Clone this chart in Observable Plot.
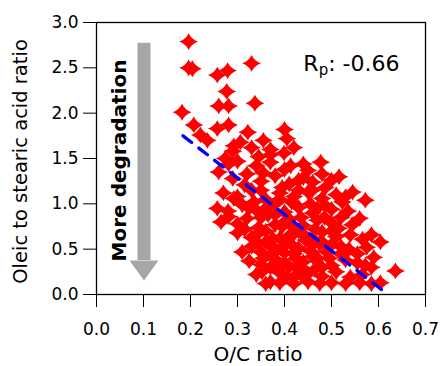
<!DOCTYPE html>
<html><head><meta charset="utf-8">
<script src="https://cdn.jsdelivr.net/npm/d3@7"></script>
<script src="https://cdn.jsdelivr.net/npm/@observablehq/plot@0.6"></script>
<style>
body{margin:0;background:#fff}
svg{font-family:"DejaVu Sans",sans-serif}
</style>
</head><body><div id="chart"></div>
<script>
// O/C ratio (x) and oleic-to-stearic acid ratio (y)
const ocRatio = [
  0.196,0.196,0.204,0.257,0.279,0.330,0.277,0.260,0.281,0.337,
  0.182,0.207,0.221,0.236,0.257,0.281,0.322,0.355,0.292,0.306,
  0.400,0.405,0.345,0.370,0.399,0.274,0.413,0.477,0.480,0.516,
  0.430,0.487,0.530,0.572,0.459,0.523,0.487,0.544,0.515,0.604,
  0.566,0.590,0.636,0.604,0.572,0.537,0.260,0.257,0.281,0.292,
  0.330,0.352,0.370,0.281,
  0.29,0.33,0.37,0.42,
  0.30,0.34,0.37,0.40,0.44,0.45,
  0.29,0.32,0.35,0.38,0.41,0.44,0.46,0.50,
  0.27,0.30,0.33,0.36,0.39,0.42,0.45,0.48,0.51,0.545,
  0.28,0.31,0.34,0.37,0.40,0.43,0.46,0.50,0.535,
  0.265,0.30,0.32,0.35,0.38,0.41,0.44,0.47,0.50,0.56,
  0.30,0.33,0.36,0.39,0.42,0.45,0.48,0.51,0.54,0.585,
  0.31,0.35,0.37,0.40,0.43,0.46,0.49,0.52,0.555,0.575,
  0.325,0.35,0.38,0.41,0.44,0.47,0.50,0.53,0.555,0.585,
  0.34,0.39,0.42,0.45,0.48,0.51,0.54,0.565,
  0.36,0.39,0.42,0.45,0.475,0.50,0.53,0.56,0.585,
  0.43,0.40,0.38,
  0.315,0.345,0.375,0.395,0.415,0.425,0.435,0.455,0.465,0.385,
  0.405,0.355,0.365,0.335,0.395,0.355,0.315,0.425,0.445,0.475,
  0.485,0.345,0.325,0.415,0.455,0.375,0.395,0.435,0.465,0.495,
  0.36,0.38,0.40,0.42,0.44,0.46,0.48,0.50,0.36,0.34,
  0.38,0.42,0.46,0.40,0.37,0.44,0.48,0.52,0.50,0.47,
  0.43,0.39,0.35,0.41,0.52
];
const oleicStearic = [
  2.79,2.50,2.49,2.42,2.47,2.55,2.24,2.08,2.08,2.11,
  2.01,1.87,1.76,1.70,1.83,1.87,1.79,1.70,1.64,1.68,
  1.82,1.72,1.52,1.54,1.56,1.50,1.42,1.46,1.33,1.30,
  1.26,1.18,1.08,1.04,1.15,1.02,0.98,0.77,0.73,0.58,
  0.61,0.41,0.26,0.13,0.32,0.50,1.35,0.95,0.86,1.06,
  0.53,0.25,0.14,1.44,
  1.58,1.62,1.60,1.62,
  1.47,1.42,1.46,1.38,1.44,1.37,
  1.28,1.33,1.25,1.31,1.22,1.29,1.24,1.26,
  1.12,1.08,1.15,1.05,1.12,1.08,1.13,1.06,1.10,1.13,
  0.92,0.99,0.93,0.98,0.91,0.96,0.90,0.94,0.92,
  0.80,0.78,0.84,0.85,0.77,0.83,0.76,0.82,0.79,0.84,
  0.68,0.63,0.70,0.62,0.67,0.61,0.69,0.64,0.66,0.66,
  0.47,0.47,0.54,0.46,0.51,0.55,0.47,0.53,0.45,0.52,
  0.37,0.33,0.39,0.31,0.36,0.40,0.32,0.38,0.35,0.30,
  0.22,0.24,0.19,0.23,0.20,0.25,0.19,0.22,
  0.12,0.13,0.12,0.14,0.12,0.13,0.12,0.13,0.12,
  0.70,0.58,1.00,
  0.72,0.56,0.45,0.75,0.55,0.40,0.85,0.48,0.72,0.28,
  0.20,0.40,0.88,1.02,1.18,1.34,1.21,0.30,0.60,0.56,
  0.85,0.74,0.95,1.02,1.00,0.62,0.52,0.22,0.28,0.40,
  0.95,0.88,0.80,0.74,0.66,0.62,0.58,0.55,0.58,0.66,
  0.50,0.45,0.42,0.35,0.30,0.28,0.30,0.45,0.70,0.95,
  1.15,1.05,1.15,0.65,0.85
];
// dashed fit line end points
const fitOC = [0.184, 0.62];
const fitRatio = [1.75, 0.0];
// axis ticks
const xTicks = [0, 0.1, 0.2, 0.3, 0.4, 0.5, 0.6, 0.7];
const yTicks = [0, 0.5, 1.0, 1.5, 2.0, 2.5, 3.0];
// grey arrow ("More degradation")
const arrowOC = [0.101];
const arrowTop = [2.77];
const arrowBase = [0.375];
const rpLabel = "Rp: -0.66";

const points = ocRatio.map((x, i) => ({x, y: oleicStearic[i]}));
const fit = fitOC.map((x, i) => ({x, y: fitRatio[i]}));
const arrow = arrowOC.map((x, i) => ({x, y1: arrowTop[i], y2: arrowBase[i]}));

const star = {
  draw(ctx) {
    const rx = 9.4, ry = 8.4, c = 2.6;
    ctx.moveTo(0, -ry);
    ctx.quadraticCurveTo(c, -c, rx, 0);
    ctx.quadraticCurveTo(c, c, 0, ry);
    ctx.quadraticCurveTo(-c, c, -rx, 0);
    ctx.quadraticCurveTo(-c, -c, 0, -ry);
    ctx.closePath();
  }
};
const head = {
  draw(ctx) {
    ctx.moveTo(-14.5, 0);
    ctx.lineTo(14.5, 0);
    ctx.lineTo(0, 20);
    ctx.closePath();
  }
};

const chart = Plot.plot({
  width: 440, height: 366,
  marginLeft: 96, marginRight: 15, marginTop: 22, marginBottom: 72,
  style: {fontFamily: '"DejaVu Sans", sans-serif', fontSize: "17px", color: "#000", background: "#fff"},
  x: {domain: [0, 0.7], ticks: xTicks, tickFormat: d => d.toFixed(1), tickSize: 13, tickPadding: 15, label: null},
  y: {domain: [0, 3], ticks: yTicks, tickFormat: d => d.toFixed(1), tickSize: 13, tickPadding: 5, label: null},
  marks: [
    Plot.ruleX(arrow, {x: "x", y1: "y1", y2: "y2", stroke: "#a6a6a6", strokeWidth: 13}),
    Plot.dot(arrow, {x: "x", y: "y2", symbol: head, fill: "#a6a6a6", r: 10}),
    Plot.text(["More degradation"], {frameAnchor: "left", textAnchor: "middle", lineAnchor: "middle", rotate: -90, dx: 23, dy: 2, fontSize: 20, fontWeight: "bold", fill: "#000"}),
    Plot.dot(points, {x: "x", y: "y", symbol: star, fill: "#ff0000", r: 9}),
    Plot.line(fit, {x: "x", y: "y", stroke: "#0000ff", strokeWidth: 3.3, strokeDasharray: "11,9"}),
    Plot.frame({stroke: "#000", strokeWidth: 1.3}),
    Plot.text([rpLabel], {frameAnchor: "top-right", textAnchor: "end", dx: -26, dy: 33, fontSize: 22, fill: "#000"}),
    Plot.text(["O/C ratio"], {frameAnchor: "bottom", dx: -3, dy: 66, fontSize: 20, fill: "#000"}),
    Plot.text(["Oleic to stearic acid ratio"], {frameAnchor: "left", textAnchor: "middle", lineAnchor: "middle", rotate: -90, dx: -76, dy: 3, fontSize: 19.5, fill: "#000"})
  ]
});
document.getElementById("chart").appendChild(chart);

// subscript p in the correlation label
d3.select(chart).selectAll("text").each(function() {
  if (this.textContent === rpLabel) {
    const t = d3.select(this);
    t.text(null);
    t.append("tspan").text("R");
    t.append("tspan").attr("dy", 4).attr("font-size", 15).text("p");
    t.append("tspan").attr("dy", -4).text(": -0.66");
  }
});
</script>
</body></html>
